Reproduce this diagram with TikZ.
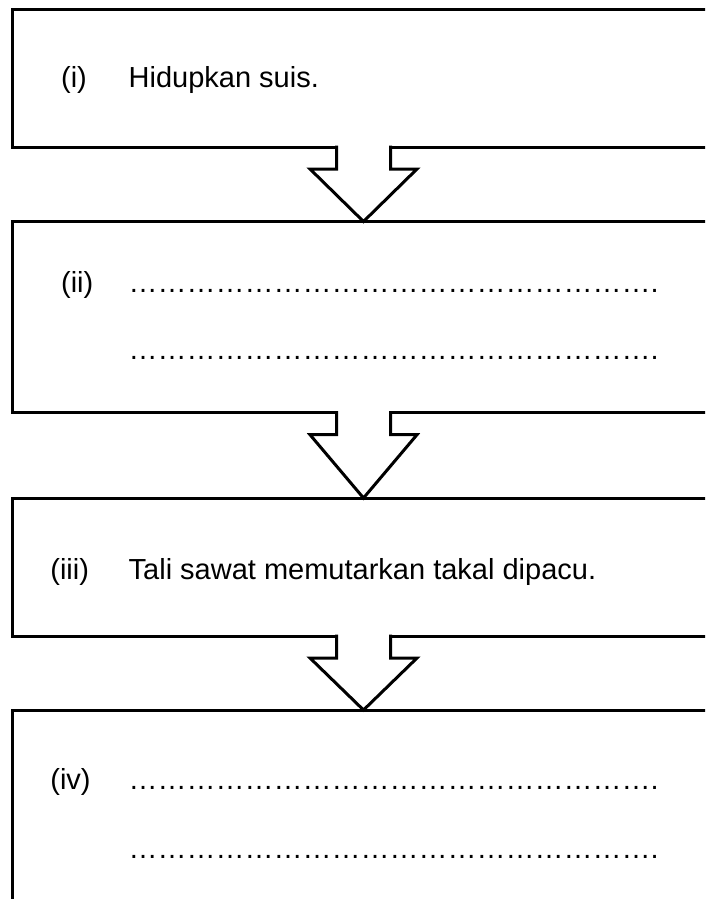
\documentclass[tikz,border=0pt]{standalone}
\usepackage{fontspec}
\setmainfont{Liberation Sans}
\usetikzlibrary{calc}
\newcommand{\titik}{\foreach \k in {1,...,18}{\char"2026}.}
\newcommand{\anakpanah}[2]{%
\fill[white] ($(#1)+(-27,-1.6)$) rectangle ($(#1)+(27,22)$);
\draw[garis] ($(#1)+(-27,-1.5)$) -- ($(#1)+(-27,22)$) -- ($(#1)+(-53.5,22)$) -- (#2) -- ($(#1)+(53.5,22)$) -- ($(#1)+(27,22)$) -- ($(#1)+(27,-1.5)$);}

\begin{document}
\begin{tikzpicture} [x = 1pt, y = -1pt,
  garis/.style = {line width = 3pt},
  kotak/.style = {draw, garis, rectangle, minimum width = 760pt, inner sep = 0pt, outer sep = 0pt},
  teks/.style = {inner sep = 0pt, anchor = base west, font = \fontsize{29pt}{34pt}\selectfont}]
\clip (0,0) rectangle (705,899);
\node[kotak, anchor = north west, minimum height = 137pt](kotak1) at (12.5,10){};
\node[kotak, anchor = north west, minimum height = 191.2pt](kotak2) at (12.5,221.5){};
\node[kotak, anchor = north west, minimum height = 138pt](kotak3) at (12.5,498){};
\node[kotak, anchor = north west, minimum height = 300pt](kotak4) at (12.5,710){};
\coordinate (tengah) at (363.5,0);
\anakpanah{kotak1.south -| tengah}{kotak2.north -| tengah}
\anakpanah{kotak2.south -| tengah}{kotak3.north -| tengah}
\anakpanah{kotak3.south -| tengah}{kotak4.north -| tengah}
\node[teks](nomor1) at (60.9,87){(i)};
\node[teks](isi1) at (128.5,87){Hidupkan suis.};
\node[teks](nomor2) at (60.9,292.2){(ii)};
\node[teks](isi2a) at (128.5,292.2){\titik};
\node[teks](isi2b) at (128.5,359.5){\titik};
\node[teks](nomor3) at (50.2,579){(iii)};
\node[teks](isi3) at (128.5,579){Tali sawat memutarkan takal dipacu.};
\node[teks](nomor4) at (50.2,789.8){(iv)};
\node[teks](isi4a) at (128.5,789.8){\titik};
\node[teks](isi4b) at (128.5,858.2){\titik};
\end{tikzpicture}
\end{document}
